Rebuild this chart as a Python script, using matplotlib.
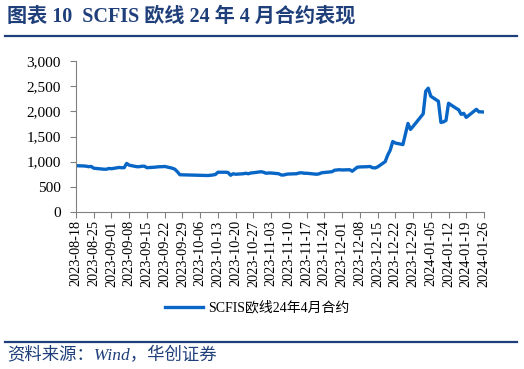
import matplotlib
matplotlib.use("Agg")
import matplotlib.pyplot as plt
import matplotlib.dates as mdates
from matplotlib.ticker import FuncFormatter, MultipleLocator
from matplotlib.lines import Line2D
import pandas as pd

# SCFIS EU line, April 2024 contract
dates = [
    "2023-08-18", "2023-08-21", "2023-08-22", "2023-08-23", "2023-08-24", "2023-08-25",
    "2023-08-28", "2023-08-29", "2023-08-30", "2023-08-31", "2023-09-01",
    "2023-09-04", "2023-09-05", "2023-09-06", "2023-09-07", "2023-09-08",
    "2023-09-11", "2023-09-12", "2023-09-13", "2023-09-14", "2023-09-15",
    "2023-09-18", "2023-09-19", "2023-09-20", "2023-09-21", "2023-09-22",
    "2023-09-25", "2023-09-26", "2023-09-27", "2023-09-28",
    "2023-10-09", "2023-10-10", "2023-10-11", "2023-10-12", "2023-10-13",
    "2023-10-16", "2023-10-17", "2023-10-18", "2023-10-19", "2023-10-20",
    "2023-10-23", "2023-10-24", "2023-10-25", "2023-10-26", "2023-10-27",
    "2023-10-30", "2023-10-31", "2023-11-01", "2023-11-02", "2023-11-03",
    "2023-11-06", "2023-11-07", "2023-11-08", "2023-11-09", "2023-11-10",
    "2023-11-13", "2023-11-14", "2023-11-15", "2023-11-16", "2023-11-17",
    "2023-11-20", "2023-11-21", "2023-11-22", "2023-11-23", "2023-11-24",
    "2023-11-27", "2023-11-28", "2023-11-29", "2023-11-30", "2023-12-01",
    "2023-12-04", "2023-12-05", "2023-12-06", "2023-12-07", "2023-12-08",
    "2023-12-11", "2023-12-12", "2023-12-13", "2023-12-14", "2023-12-15",
    "2023-12-18", "2023-12-19", "2023-12-20", "2023-12-21", "2023-12-22",
    "2023-12-25", "2023-12-26", "2023-12-27", "2023-12-28", "2023-12-29",
    "2024-01-02", "2024-01-03", "2024-01-04", "2024-01-05",
    "2024-01-08", "2024-01-09", "2024-01-10", "2024-01-11", "2024-01-12",
    "2024-01-15", "2024-01-16", "2024-01-17", "2024-01-18", "2024-01-19",
    "2024-01-22", "2024-01-23", "2024-01-24", "2024-01-25", "2024-01-26",
]
values = [
    920, 915, 910, 900, 905, 870,
    855, 850, 850, 865, 860,
    885, 880, 880, 965, 930,
    900, 900, 910, 910, 880,
    890, 895, 900, 900, 905,
    870, 850, 800, 740,
    725, 730, 735, 745, 790,
    790, 785, 730, 760, 750,
    760, 770, 760, 775, 780,
    800, 790, 770, 775, 775,
    760, 735, 735, 750, 755,
    760, 775, 780, 770, 770,
    755, 750, 760, 780, 785,
    800, 830, 835, 840, 835,
    840, 810, 850, 890, 895,
    900, 905, 880, 875, 895,
    1000, 1130, 1230, 1400, 1370,
    1340, 1550, 1760, 1640, 1700,
    1950, 2400, 2460, 2300,
    2200, 1780, 1790, 1820, 2160,
    2060, 2030, 1940, 1960, 1880,
    2000, 2040, 1990, 1990, 1985,
]
tick_dates = pd.date_range("2023-08-18", "2024-01-26", freq="7D")
series_name = "SCFIS欧线24年4月合约"

x = pd.to_datetime(dates)

cjk = ["Liberation Serif", "Noto Sans CJK SC"]
navy = "#1F3F7A"
blue = "#0866C6"

fig = plt.figure(figsize=(5.24, 3.69), dpi=100)
ax = fig.add_axes([76 / 524, 1 - 212 / 369, 408 / 524, 151 / 369])

ax.plot(x, values, color=blue, linewidth=2.4, solid_capstyle="round")

ax.set_xlim(tick_dates[0], tick_dates[-1])
ax.set_ylim(0, 3000)
ax.yaxis.set_major_locator(MultipleLocator(500))
ax.yaxis.set_major_formatter(FuncFormatter(lambda v, p: f"{int(v):,}"))
ax.set_xticks(tick_dates)
ax.xaxis.set_major_formatter(mdates.DateFormatter("%Y-%m-%d"))
for lbl in ax.get_xticklabels():
    lbl.set_rotation(90)
    lbl.set_fontfamily("Liberation Serif")
    lbl.set_fontsize(10.3)
for lbl in ax.get_yticklabels():
    lbl.set_fontfamily("Liberation Serif")
    lbl.set_fontsize(11)

for s in ["top", "right"]:
    ax.spines[s].set_visible(False)
for s in ["left", "bottom"]:
    ax.spines[s].set_color("#808080")
    ax.spines[s].set_linewidth(0.8)
ax.tick_params(axis="both", direction="out", length=4, color="#808080",
               labelcolor="black", pad=2)
ax.tick_params(axis="y", pad=7)

# legend
handle = Line2D([], [], color=blue, linewidth=2.4)
fig.legend([handle], [series_name], loc="center", bbox_to_anchor=(0.49, 1 - 308 / 369),
           frameon=False, prop={"family": cjk, "size": 10},
           handlelength=2.8, handletextpad=0.3)

# title and rules
fig.text(7 / 524, 1 - 17 / 369, "图表 10  SCFIS 欧线 24 年 4 月合约表现",
         family=cjk, fontsize=14.5, fontweight="bold", color=navy, va="center")
fig.add_artist(Line2D([5 / 524, 517 / 524], [1 - 36 / 369] * 2, color=navy, linewidth=1.6))
fig.add_artist(Line2D([5 / 524, 517 / 524], [1 - 342 / 369] * 2, color=navy, linewidth=1.6))
fig.text(7 / 524, 1 - 356 / 369, "资料来源：Wind，华创证券",
         family=cjk, fontsize=12.5, style="italic", color=navy, va="center")

fig.savefig("out.png", dpi=100)
